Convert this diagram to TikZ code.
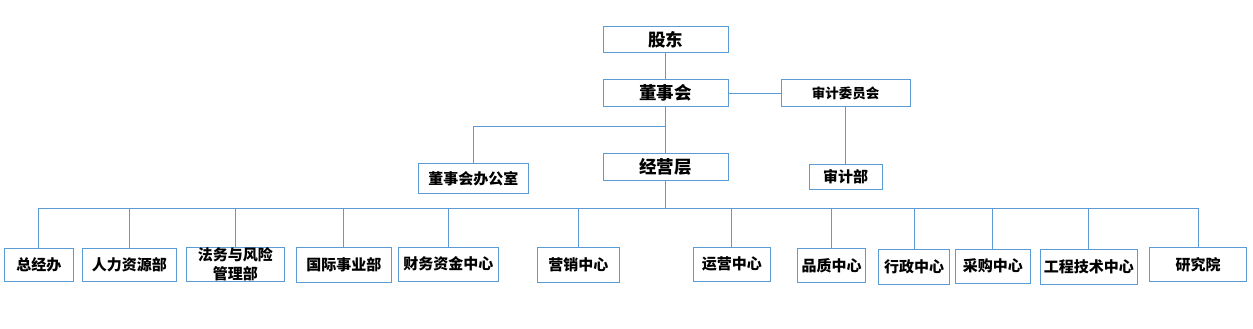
\documentclass[tikz,border=0pt]{standalone}
\usepackage{fontspec}
\setmainfont{Noto Sans CJK SC}
\definecolor{lineblue}{HTML}{5B9BD5}
\tikzset{
  orgbox/.style={draw=lineblue, line width=1pt, fill=white, inner sep=0pt, align=center, text=black},
  big/.style={font=\fontsize{17.5}{20}\selectfont\bfseries},
  mid/.style={font=\fontsize{15}{18.8}\selectfont\bfseries},
  small/.style={font=\fontsize{13.5}{16}\selectfont\bfseries},
  link/.style={draw=lineblue, line width=1pt}
}
\newcommand{\ob}[6]{\node[orgbox,#1,minimum width=#4pt,minimum height=#5pt] (#2) at (#3) {#6};}
\begin{document}
\begin{tikzpicture}[x=1pt,y=-1pt]
\useasboundingbox (0,0) rectangle (1253,329);
% top levels
\ob{big}{gd}{665.5,40}{125}{26}{股东}
\ob{big}{dsh}{665.5,93}{125}{27}{董事会}
\ob{small}{sjwyh}{845.5,93}{129}{27}{审计委员会}
\ob{big}{jyc}{665.5,167}{125}{27}{经营层}
\ob{mid}{dshbgs}{473.3,178.3}{110}{30}{董事会办公室}
\ob{mid}{sjb}{845.5,177}{73}{25}{审计部}
% bottom row
\ob{mid}{zjb}{38.8,264.7}{69}{33}{总经办}
\ob{mid}{rlzyb}{129.3,264.7}{94}{33}{人力资源部}
\ob{mid}{fwfx}{235.3,264.2}{98}{34}{法务与风险\\管理部}
\ob{mid}{gjsyb}{343.8,264.8}{95}{35}{国际事业部}
\ob{mid}{cwzj}{448.3,264.2}{100}{34}{财务资金中心}
\ob{mid}{yxzx}{578.3,264.8}{82}{35}{营销中心}
\ob{mid}{yyzx}{731.8,264.3}{77}{34}{运营中心}
\ob{mid}{pzzx}{831.5,265.3}{68.4}{34}{品质中心}
\ob{mid}{xzzx}{914,266.8}{71.4}{35}{行政中心}
\ob{mid}{cgzx}{992.8,266.2}{75}{34.3}{采购中心}
\ob{mid}{gcjs}{1088.8,266.8}{97}{35}{工程技术中心}
\ob{mid}{yjy}{1198,264.3}{97.4}{34}{研究院}
% junctions
\coordinate (j1) at (665.5,126.7);
\coordinate (bus) at (665.5,208.3);
% connectors
\draw[link] (gd.south) -- (dsh.north);
\draw[link] (dsh.east) -- (sjwyh.west);
\draw[link] (sjwyh.south) -- (sjb.north);
\draw[link] (dsh.south) -- (jyc.north);
\draw[link] (j1) -| (dshbgs.north);
\draw[link] (jyc.south) -- (bus);
\draw[link] (zjb.north) |- (bus) -| (yjy.north);
\foreach \n in {rlzyb,fwfx,gjsyb,cwzj,yxzx,yyzx,pzzx,xzzx,cgzx,gcjs}{
  \draw[link] (\n.north) -- (\n.north |- bus);
}
\end{tikzpicture}
\end{document}
